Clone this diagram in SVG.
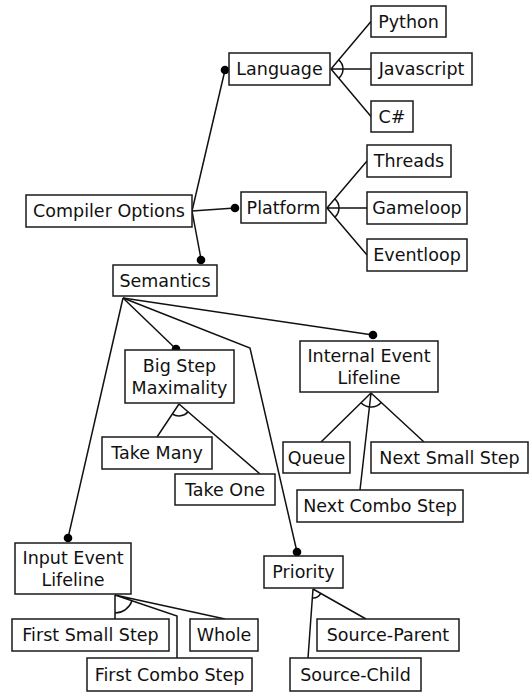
<svg xmlns="http://www.w3.org/2000/svg" width="531" height="692" viewBox="0 0 531 692">
<style>
.box{fill:#fff;stroke:#1a1a1a;stroke-width:1.5}
.lbl{font-family:"DejaVu Sans","Liberation Sans",sans-serif;font-size:17.5px;fill:#111;text-anchor:middle}
.ln{fill:none;stroke:#111;stroke-width:1.5}
.dot{fill:#000}
</style>
<rect width="531" height="692" fill="#fff"/>
<g id="connectors">
<path class="ln" d="M192,211 L225,70"/>
<path class="ln" d="M192,211 L235,208"/>
<path class="ln" d="M192,211 L201,259"/>
<path class="ln" d="M331,69 L371,21.5 M331,69 L371,69 M331,69 L371,116.5"/>
<path class="ln" d="M338.7,59.8 A12,12 0 0 1 338.7,78.2"/>
<path class="ln" d="M327,208 L367,161 M327,208 L367,208 M327,208 L367,255"/>
<path class="ln" d="M334.8,198.9 A12,12 0 0 1 334.8,217.1"/>
<path class="ln" d="M123,298 L176,349"/>
<path class="ln" d="M123,298 L250,348 L297,552"/>
<path class="ln" d="M123,298 L373,335"/>
<path class="ln" d="M123,298 L68,538"/>
<path class="ln" d="M179,404 L157,437 M179,404 L260,474"/>
<path class="ln" d="M172.4,414 A12,12 0 0 0 188.1,411.8"/>
<path class="ln" d="M371,393 L321,442 M371,393 L360,490 M371,393 L424,442"/>
<path class="ln" d="M361,402.8 A14,14 0 0 0 381.3,402.5"/>
<path class="ln" d="M115,595 L115,619 M115,595 L177,616 L177,658 M115,595 L225,619"/>
<path class="ln" d="M115,613 A18,18 0 0 0 132,600.8"/>
<path class="ln" d="M313,589 L308,658 M313,589 L366,619"/>
<path class="ln" d="M312.4,598 A9,9 0 0 0 320.8,593.4"/>
<circle class="dot" cx="225" cy="70" r="4.3"/>
<circle class="dot" cx="235" cy="208" r="4.3"/>
<circle class="dot" cx="201" cy="260" r="4.3"/>
<circle class="dot" cx="176" cy="349" r="4.3"/>
<circle class="dot" cx="373" cy="335" r="4.3"/>
<circle class="dot" cx="68" cy="538" r="4.3"/>
<circle class="dot" cx="297" cy="552" r="4.3"/>
</g>
<g id="compiler-options"><rect class="box" x="26" y="195" width="166" height="32"/><text class="lbl" x="109" y="217">Compiler Options</text></g>
<g id="language"><rect class="box" x="229" y="53" width="101" height="32"/><text class="lbl" x="279.5" y="75">Language</text></g>
<g id="platform"><rect class="box" x="241" y="192" width="85" height="31"/><text class="lbl" x="283.5" y="213.5">Platform</text></g>
<g id="semantics"><rect class="box" x="113" y="265" width="104" height="31"/><text class="lbl" x="165" y="286.5">Semantics</text></g>
<g id="python"><rect class="box" x="371" y="6" width="75" height="31"/><text class="lbl" x="408.5" y="27.5">Python</text></g>
<g id="javascript"><rect class="box" x="371" y="53" width="101" height="32"/><text class="lbl" x="421.5" y="75">Javascript</text></g>
<g id="csharp"><rect class="box" x="371" y="101" width="42" height="31"/><text class="lbl" x="392" y="122.5">C#</text></g>
<g id="threads"><rect class="box" x="367" y="145" width="84" height="32"/><text class="lbl" x="409" y="167">Threads</text></g>
<g id="gameloop"><rect class="box" x="367" y="192" width="100" height="32"/><text class="lbl" x="417" y="214">Gameloop</text></g>
<g id="eventloop"><rect class="box" x="367" y="239" width="100" height="32"/><text class="lbl" x="417" y="261">Eventloop</text></g>
<g id="big-step-maximality"><rect class="box" x="125" y="350" width="109" height="53"/><text class="lbl" x="179.5" y="371.5">Big Step</text><text class="lbl" x="179.5" y="393.5">Maximality</text></g>
<g id="take-many"><rect class="box" x="102" y="437" width="110" height="32"/><text class="lbl" x="157" y="459">Take Many</text></g>
<g id="take-one"><rect class="box" x="175" y="474" width="100" height="31"/><text class="lbl" x="225" y="495.5">Take One</text></g>
<g id="internal-event-lifeline"><rect class="box" x="300" y="341" width="138" height="51"/><text class="lbl" x="369" y="362">Internal Event</text><text class="lbl" x="369" y="384">Lifeline</text></g>
<g id="queue"><rect class="box" x="283" y="442" width="67" height="31"/><text class="lbl" x="316.5" y="463.5">Queue</text></g>
<g id="next-small-step"><rect class="box" x="371" y="442" width="157" height="31"/><text class="lbl" x="449.5" y="463.5">Next Small Step</text></g>
<g id="next-combo-step"><rect class="box" x="297" y="490" width="166" height="32"/><text class="lbl" x="380" y="512">Next Combo Step</text></g>
<g id="input-event-lifeline"><rect class="box" x="15" y="543" width="116" height="51"/><text class="lbl" x="73" y="564">Input Event</text><text class="lbl" x="73" y="586">Lifeline</text></g>
<g id="first-small-step"><rect class="box" x="12" y="619" width="157" height="32"/><text class="lbl" x="90.5" y="641">First Small Step</text></g>
<g id="whole"><rect class="box" x="190" y="619" width="68" height="32"/><text class="lbl" x="224" y="641">Whole</text></g>
<g id="first-combo-step"><rect class="box" x="87" y="658" width="165" height="33"/><text class="lbl" x="169.5" y="680.5">First Combo Step</text></g>
<g id="priority"><rect class="box" x="264" y="556" width="79" height="32"/><text class="lbl" x="303.5" y="578">Priority</text></g>
<g id="source-parent"><rect class="box" x="317" y="619" width="142" height="32"/><text class="lbl" x="388" y="641">Source-Parent</text></g>
<g id="source-child"><rect class="box" x="290" y="658" width="131" height="33"/><text class="lbl" x="355.5" y="680.5">Source-Child</text></g>
</svg>
